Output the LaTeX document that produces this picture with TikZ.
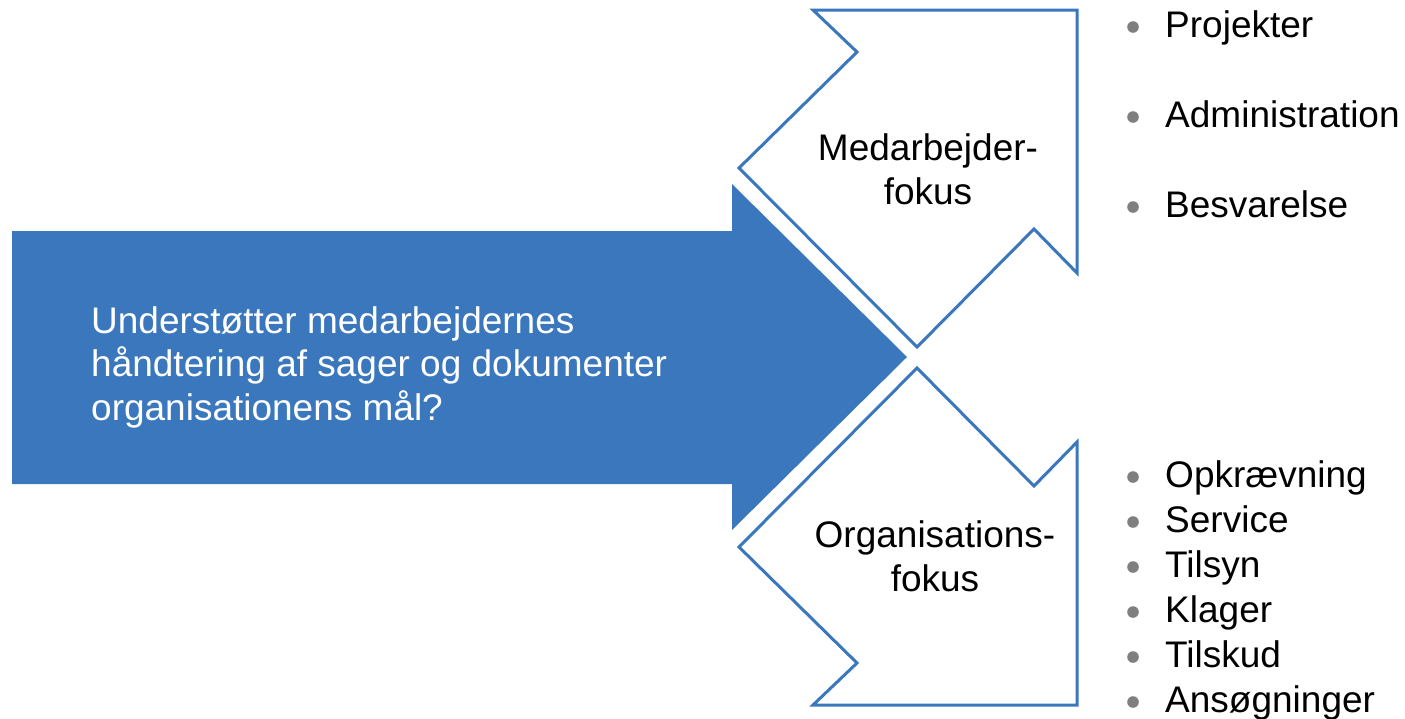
\documentclass[tikz,border=0pt]{standalone}
\usepackage{fontspec}
\setmainfont{Liberation Sans}
\definecolor{arrowblue}{HTML}{3A77BD}
\definecolor{bulletgray}{HTML}{7F7F7F}
\tikzset{
  fokus/.style={draw=arrowblue,line width=3pt,fill=white,line join=miter},
  fokustext/.style={font=\fontsize{37}{44}\selectfont,align=center,inner sep=0pt},
  punkt/.style={font=\fontsize{37}{44}\selectfont,anchor=base west,inner sep=0pt},
}
\begin{document}
\begin{tikzpicture}[x=1pt,y=-1pt]
\useasboundingbox (0,0) rectangle (1405,718);
% big arrow
\fill[arrowblue] (12,231)--(732,231)--(732,184)--(907,357)--(732,530)--(732,484)--(12,484)--cycle;
\node[anchor=west,align=left,inner sep=0pt,text=white,font=\fontsize{37}{43.5}\selectfont] (spm) at (91,367)
  {Understøtter medarbejdernes\\håndtering af sager og dokumenter\\organisationens mål?};
% chevrons
\draw[fokus] (813,10)--(1077,10)--(1077,273)--(1034,229)--(917,347)--(739,168)--(857,52)--cycle;
\draw[fokus] (813,705)--(1077,705)--(1077,442)--(1034,486)--(917,368)--(739,547)--(857,663)--cycle;
\node[fokustext] (medarb) at (928,169) {Medarbejder-\\fokus};
\node[fokustext] (org) at (935,556) {Organisations-\\fokus};
% lists
\foreach \t/\y [count=\i] in {Projekter/37,Administration/127,Besvarelse/217}{
  \fill[bulletgray] (1133,\y-10) circle (5.8pt);
  \node[punkt] (medpkt\i) at (1165,\y) {\t};
}
\foreach \t/\y [count=\i] in {Opkrævning/487,Service/532,Tilsyn/577,Klager/622,Tilskud/667,Ansøgninger/712}{
  \fill[bulletgray] (1133,\y-10) circle (5.8pt);
  \node[punkt] (orgpkt\i) at (1165,\y) {\t};
}
\end{tikzpicture}
\end{document}
